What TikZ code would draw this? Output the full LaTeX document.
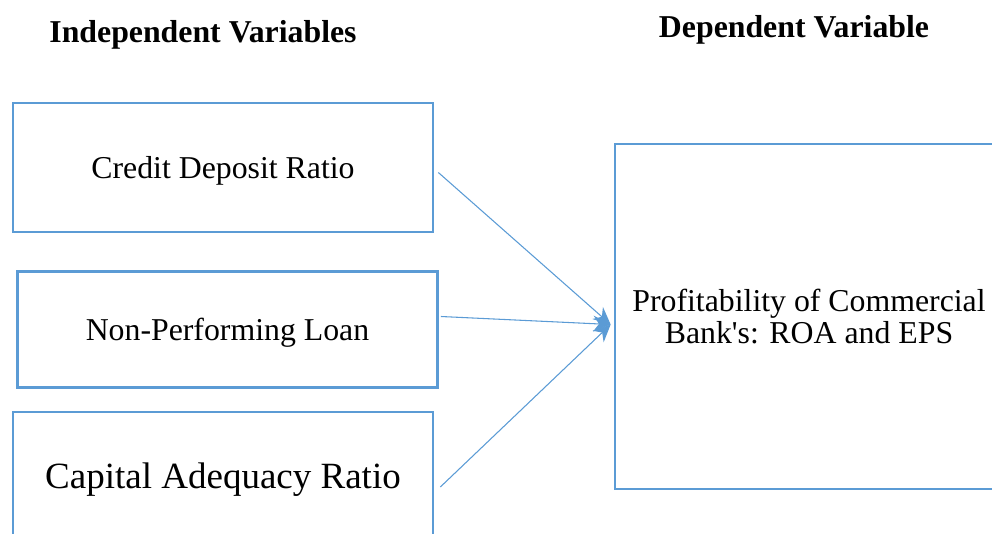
\documentclass[tikz,border=0pt]{standalone}
\usepackage{fontspec}
\setmainfont{Liberation Serif}
\usetikzlibrary{arrows.meta,calc}
\definecolor{boxblue}{HTML}{5B9BD5}
\begin{document}
\begin{tikzpicture}[x=0.75pt,y=-0.75pt,
  box/.style={draw=boxblue,line width=2pt,rectangle,inner sep=0pt,align=center,
    font=\fontsize{23.85}{24}\selectfont},
  onebox/.style={box,text height=21.5pt,text depth=5.5pt},
  title/.style={font=\fontsize{23.85}{24}\selectfont\bfseries,inner sep=0pt},
  conn/.style={draw=boxblue,line width=0.8pt,-{Stealth[length=13pt,width=12pt]}}]
\useasboundingbox (0,0) rectangle (992,534);
\clip (0,0) rectangle (992,534);
\node[title] (t1) at (203,35) {Independent Variables};
\node[title] (t2) at (794,30) {Dependent Variable};
\node[onebox,minimum width=420*0.75pt,minimum height=129*0.75pt] (b1) at (223,167.5) {Credit Deposit Ratio};
\node[onebox,minimum width=420*0.75pt,minimum height=116*0.75pt] (b2) at (227.5,329.5) {Non-Performing Loan};
\node[box,text height=26pt,text depth=6.5pt,minimum width=420*0.75pt,minimum height=126*0.75pt,font=\fontsize{27.75}{28}\selectfont] (b3) at (223,475) {Capital Adequacy Ratio};
\node[box,minimum width=388*0.75pt,minimum height=345*0.75pt] (r) at (809,316.5) {Profitability of Commercial\\Bank\textquotesingle s: ROA and EPS};
\coordinate (s1) at ($(b1.east)+(4,5)$);
\coordinate (s2) at ($(b2.east)+(2,-13)$);
\coordinate (s3) at ($(b3.east)+(6,12)$);
\coordinate (h) at ($(r.west)+(-3,8)$);
\draw[conn] (s1) -- (h);
\draw[conn] (s2) -- (h);
\draw[conn] (s3) -- (h);
\end{tikzpicture}
\end{document}
